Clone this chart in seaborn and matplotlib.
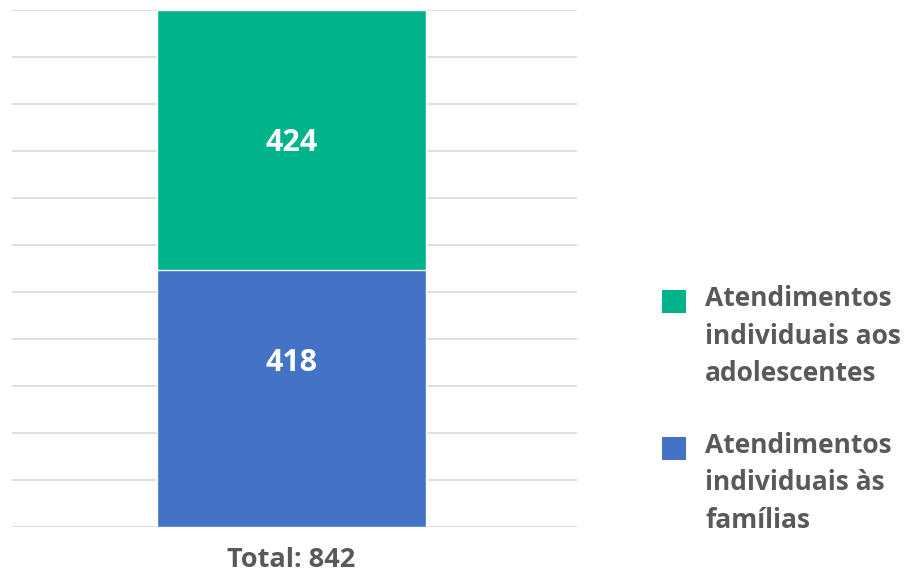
import pandas as pd
import numpy as np
import matplotlib.pyplot as plt
from matplotlib.patches import Rectangle
import seaborn as sns

categories = ["Total: 842"]
familias = [418]
adolescentes = [424]
series_labels = ["Atendimentos\nindividuais aos\nadolescentes",
                 "Atendimentos\nindividuais às\nfamílias"]

green = "#00B38A"
blue = "#4472C4"
gray = "#595959"

sns.set_style("white")
plt.rcParams['font.family'] = ['Open Sans', 'DejaVu Sans']

df = pd.DataFrame({"cat": categories, "familias": familias, "adolescentes": adolescentes})
df["total"] = df["familias"] + df["adolescentes"]

fig = plt.figure(figsize=(9.08, 5.77), dpi=100)
ax = fig.add_axes([0.013, 0.087, 0.622, 0.896])

# stacked: the full height in green, the lower part in blue on top
sns.barplot(data=df, x="cat", y="total", color=green, width=0.476, saturation=1, ax=ax, zorder=2)
sns.barplot(data=df, x="cat", y="familias", color=blue, width=0.476, saturation=1, ax=ax, zorder=3)

for i, row in df.iterrows():
    ax.text(i, row["familias"] * 0.64, f"{row['familias']}", ha="center", va="center",
            color="white", fontsize=22, fontweight="bold", zorder=4)
    ax.text(i, row["familias"] + row["adolescentes"] * 0.49, f"{row['adolescentes']}",
            ha="center", va="center", color="white", fontsize=22, fontweight="bold", zorder=4)

top = df["total"].max()
ax.set_ylim(0, top)
ax.set_xlim(-0.495, 0.505)
ax.set_yticks(np.linspace(0, top, 12))
ax.yaxis.grid(True, color="#D9D9D9", linewidth=1.2, zorder=0)
ax.set_axisbelow(True)
ax.tick_params(axis="y", left=False, labelleft=False)
ax.tick_params(axis="x", bottom=False, labelsize=19.5, colors=gray, pad=11)
for lab in ax.get_xticklabels():
    lab.set_fontweight("bold")
ax.set_xlabel("")
ax.set_ylabel("")
sns.despine(ax=ax, left=True, bottom=True)

# legend drawn by hand so the square sits beside the first line
legend_colors = [green, blue]
legend_top = [290, 437]  # px from top of figure
for lab, col, ytop in zip(series_labels, legend_colors, legend_top):
    fig.patches.append(Rectangle((662 / 908, 1 - (ytop + 23) / 577), 24 / 908, 23 / 577,
                                 transform=fig.transFigure, facecolor=col, edgecolor="none"))
    fig.text(705 / 908, 1 - (ytop - 5) / 577, lab, ha="left", va="top", color=gray,
             fontsize=19, fontweight="bold", linespacing=1.5)

fig.savefig("out.png", dpi=100)
